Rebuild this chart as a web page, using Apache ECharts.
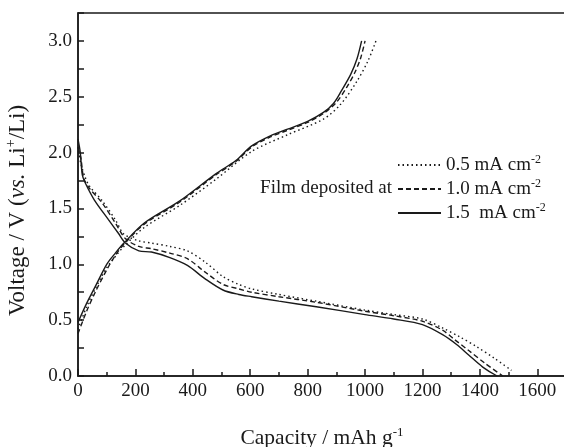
<!DOCTYPE html>
<html><head><meta charset="utf-8">
<script src="https://cdn.jsdelivr.net/npm/echarts@6/dist/echarts.min.js"></script>
<style>html,body{margin:0;padding:0;background:#fff}#c{width:564px;height:447px}</style>
</head><body><div id="c"></div>
<script>
// Charge curves [capacity, voltage]
const charge05 = [[0,0.42],[30,0.62],[60,0.78],[100,0.97],[130,1.07],[160,1.16],[231,1.33],[356,1.53],[480,1.76],[605,2.01],[730,2.16],[855,2.30],[914,2.43],[972,2.64],[1010,2.82],[1038,3.0]];
const charge10 = [[0,0.38],[30,0.58],[60,0.75],[100,0.95],[130,1.08],[160,1.18],[231,1.36],[356,1.56],[480,1.80],[550,1.92],[605,2.05],[670,2.14],[730,2.20],[800,2.27],[855,2.35],[900,2.45],[935,2.58],[965,2.72],[985,2.85],[1000,3.0]];
const charge15 = [[0,0.48],[30,0.65],[60,0.80],[100,1.0],[130,1.10],[160,1.19],[231,1.37],[356,1.57],[480,1.81],[550,1.93],[605,2.06],[670,2.15],[730,2.21],[800,2.28],[855,2.36],[890,2.44],[917,2.55],[950,2.70],[972,2.84],[988,3.0]];
// Discharge curves [capacity, voltage]
const discharge05 = [[0,2.05],[10,1.90],[25,1.78],[40,1.70],[84,1.57],[130,1.40],[160,1.27],[212,1.21],[256,1.19],[320,1.16],[381,1.12],[443,1.02],[505,0.89],[560,0.82],[605,0.78],[700,0.73],[830,0.67],[1000,0.59],[1100,0.55],[1200,0.51],[1270,0.43],[1330,0.35],[1390,0.26],[1450,0.16],[1510,0.05]];
const discharge10 = [[0,2.05],[10,1.95],[20,1.77],[40,1.68],[84,1.55],[130,1.37],[165,1.23],[212,1.16],[256,1.14],[320,1.10],[381,1.05],[443,0.93],[505,0.82],[560,0.78],[605,0.75],[700,0.71],[830,0.66],[1000,0.58],[1100,0.54],[1200,0.49],[1270,0.41],[1310,0.33],[1360,0.23],[1420,0.11],[1480,0.0]];
const discharge15 = [[0,2.12],[8,2.0],[15,1.80],[25,1.73],[56,1.58],[106,1.40],[140,1.28],[165,1.19],[212,1.12],[256,1.11],[320,1.06],[381,0.99],[443,0.87],[505,0.77],[560,0.73],[605,0.71],[700,0.67],[830,0.62],[1000,0.55],[1100,0.51],[1200,0.46],[1270,0.37],[1320,0.28],[1360,0.19],[1410,0.08],[1460,0.0]];
const seriesNames = ['0.5','1.0','1.5'];
const legendLabels = ['0.5 mA cm','1.0 mA cm','1.5  mA cm'];
const xTicks = [0,200,400,600,800,1000,1200,1400,1600];
const yTicks = [0.0,0.5,1.0,1.5,2.0,2.5,3.0];

const FONT = '"Liberation Serif", "DejaVu Serif", serif';
const INK = '#1a1a1a';
const chart = echarts.init(document.getElementById('c'), null, {renderer:'canvas'});
function join(a,b){return a.concat([[null,null]]).concat(b);}
const curves = [join(charge05,discharge05), join(charge10,discharge10), join(charge15,discharge15)];
const styles = [[1.5,3],[5,3],'solid'];
chart.setOption({
  animation:false,
  backgroundColor:'#fff',
  grid:{left:78, top:13, width:488, height:363, containLabel:false, outerBoundsMode:'none',
    show:true, borderColor:INK, borderWidth:1.5, backgroundColor:'transparent'},
  xAxis:[{
    type:'value', min:0, max:1700, interval:200, position:'bottom',
    axisLine:{show:true, lineStyle:{color:INK, width:1.5}},
    axisTick:{show:true, inside:true, length:7, lineStyle:{color:INK, width:1.5}},
    axisLabel:{show:true, margin:6, color:INK, fontFamily:FONT, fontSize:19, showMaxLabel:false,
      formatter:v=>xTicks.indexOf(v)>=0?String(v):''},
    splitLine:{show:false},
    name:'Capacity / mAh g{s|-1}', nameLocation:'middle', nameGap:50,
    nameTextStyle:{color:INK, fontFamily:FONT, fontSize:21.5, rich:{s:{fontFamily:FONT, fontSize:13, padding:[0,0,12,0], color:INK}}}
  },{
    type:'value', min:0, max:1700, interval:100, position:'bottom', offset:0,
    axisLine:{show:false}, axisLabel:{show:false}, splitLine:{show:false},
    axisTick:{show:true, inside:true, length:4, lineStyle:{color:INK, width:1.5}}
  }],
  yAxis:{
    type:'value', min:0, max:3.25, interval:0.25,
    axisLine:{show:true, lineStyle:{color:INK, width:1.5}},
    axisTick:{show:true, inside:true, length:6, lineStyle:{color:INK, width:1.5}},
    axisLabel:{margin:6, color:INK, fontFamily:FONT, fontSize:19,
      formatter:v=>{const k=yTicks.findIndex(t=>Math.abs(t-v)<1e-6);return k>=0?yTicks[k].toFixed(1):'';}},
    splitLine:{show:false},
    name:'Voltage / V ({i|vs.} Li{s|+}/Li)', nameLocation:'middle', nameGap:47, nameRotate:90,
    nameTextStyle:{color:INK, fontFamily:FONT, fontSize:23, padding:[0,32,0,0],
      rich:{i:{fontFamily:FONT, fontSize:23, fontStyle:'italic', color:INK}, s:{fontFamily:FONT, fontSize:14, padding:[0,0,13,0], color:INK}}}
  },
  legend:{
    orient:'vertical', left:397, top:153, padding:0, itemWidth:43, itemHeight:10, itemGap:0,
    data:seriesNames,
    itemStyle:{color:'transparent', borderWidth:0, borderColor:'transparent'},
    formatter:n=>'{a|'+legendLabels[seriesNames.indexOf(n)]+'}{s|-2}',
    textStyle:{color:INK, fontFamily:FONT, fontSize:19, lineHeight:24,
      rich:{a:{fontFamily:FONT, fontSize:19, color:INK, lineHeight:24}, s:{fontFamily:FONT, fontSize:12, color:INK, padding:[0,0,10,0]}}}
  },
  graphic:[{type:'text', right:564-392, top:179, style:{text:'Film deposited at', font:'19px '+FONT, fill:INK}}],
  series: curves.map((d,i)=>({
    name:seriesNames[i], type:'line', data:d, showSymbol:false, symbol:'none', connectNulls:false,
    smooth:0.3, xAxisIndex:0,
    lineStyle:{color:INK, width:1.4, type:styles[i]},
    itemStyle:{color:INK}
  }))
});
</script></body></html>
